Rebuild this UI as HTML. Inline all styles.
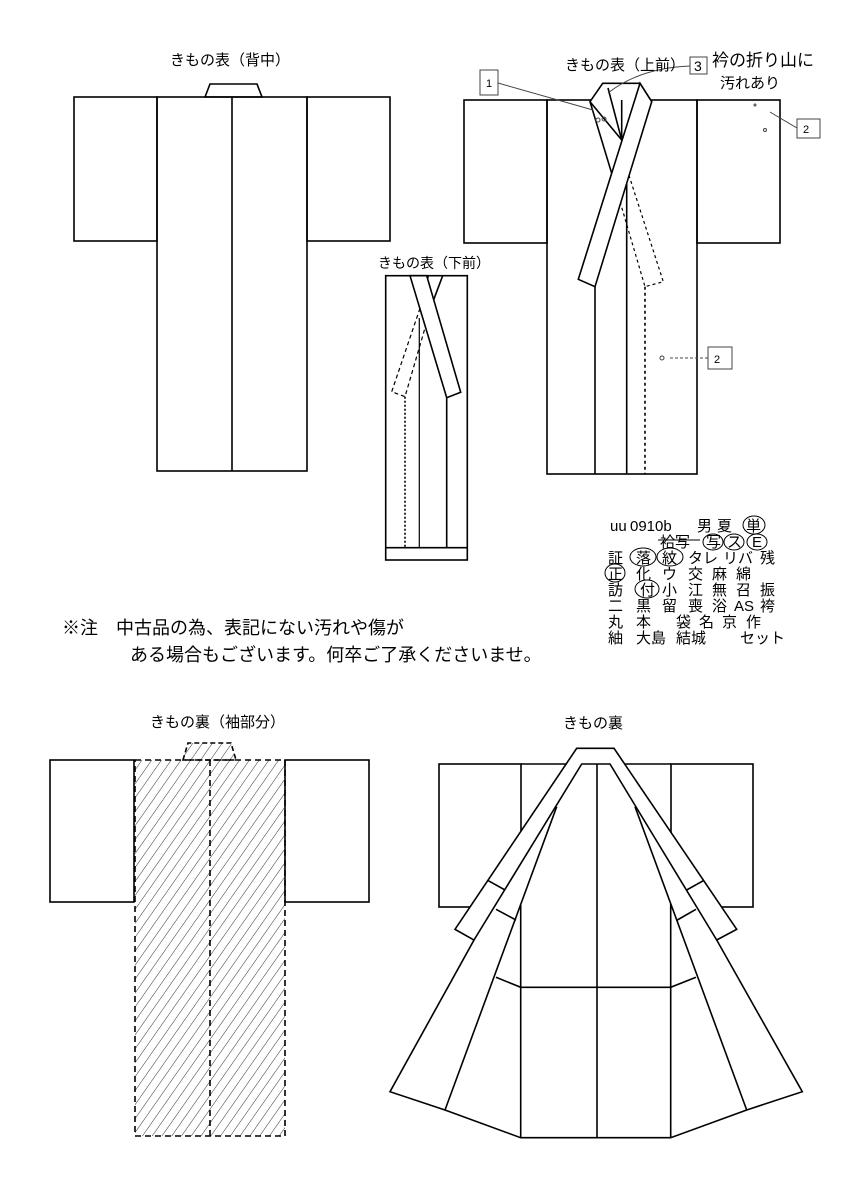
<!DOCTYPE html>
<html><head><meta charset="utf-8"><style>
html,body{margin:0;padding:0;background:#fff;}
svg{display:block;}
text{font-family:"Liberation Sans","Noto Sans CJK JP",sans-serif;fill:#000;}
</style></head><body>
<svg width="847" height="1200" viewBox="0 0 847 1200" xmlns="http://www.w3.org/2000/svg">
<defs>
<pattern id="h" width="8" height="8" patternUnits="userSpaceOnUse" patternTransform="rotate(35)">
<line x1="0" y1="0" x2="0" y2="8" stroke="#333" stroke-width="1"/></pattern>
</defs>
<g fill="none" stroke="#000" stroke-width="1.6">
<!-- top-left back -->
<rect x="74" y="97" width="83" height="144"/>
<rect x="307" y="97" width="83" height="144"/>
<rect x="157" y="97" width="150" height="374"/>
<line x1="232" y1="97" x2="232" y2="471"/>
<polygon points="205,97 210,84 257,84 262,97"/>
<!-- bottom center small -->
<rect x="385.7" y="275.7" width="81.6" height="284.3"/>
<line x1="385.7" y1="547.7" x2="467.3" y2="547.7"/>
<line x1="419.3" y1="318" x2="419.3" y2="547.7" stroke-width="1.2"/>
<line x1="446.7" y1="397.7" x2="446.7" y2="547.7"/>
<line x1="405" y1="396.7" x2="405" y2="547.7" stroke-dasharray="2,2"/>
<polyline points="428.3,275.7 420,308.3"/>
<polyline points="442.7,275.7 431.7,305"/>
<g stroke-dasharray="4,3" stroke-width="1.2">
<polyline points="420,308.3 391.7,391.7 405,396.7 431.7,305"/>
</g>
<polygon points="410,275.7 426.7,275.7 460.7,392.3 446.7,397.7" fill="#fff"/>
<!-- top-right front -->
<rect x="464" y="100" width="83" height="143"/>
<rect x="697" y="100" width="83" height="143"/>
<rect x="547" y="100" width="150" height="374"/>
<line x1="626.7" y1="140" x2="626.7" y2="474"/>
<line x1="595" y1="286.7" x2="595" y2="474"/>
<line x1="645" y1="286.7" x2="645" y2="474" stroke-dasharray="3,3"/>
<polygon points="602.7,83.3 640,83.3 651.7,101.7 621.7,140 590,101.7" fill="#fff"/>
<line x1="621.7" y1="100" x2="621.7" y2="140"/>
<line x1="608" y1="88" x2="621.7" y2="140"/>
<polyline points="590,101.7 611.7,173.3"/>
<polyline points="611.7,173.3 645,286.7 663.3,281.7 628.3,173.3" stroke-dasharray="3,3" stroke-width="1.2"/>
<polygon points="640,83.3 651.7,101.7 595,286.7 578.3,279.3" fill="#fff"/>
<!-- bottom-left lining -->
<rect x="50" y="760" width="84" height="142"/>
<rect x="285" y="760" width="84" height="142"/>
<rect x="135" y="760" width="150" height="376" fill="url(#h)" stroke-dasharray="6,4"/>
<line x1="210" y1="760" x2="210" y2="1136" stroke-dasharray="6,4"/>
<polygon points="183,760 188,743 231,743 236,760" fill="url(#h)" stroke-dasharray="5,3"/>
<!-- bottom-right lining -->
<rect x="439" y="764" width="82" height="143"/>
<rect x="671" y="764" width="82" height="143"/>
<line x1="521" y1="764" x2="671" y2="764"/>
<polygon points="576.7,748.3 614,748.3 736.7,929.3 716.7,940 802.3,1091.7 746.7,1110 670.7,1137.7 520.7,1137.7 445,1110 390,1091.7 474,940 455,929.3" fill="#fff"/>
<polyline points="474,940 581.7,764 610,764 716.7,940"/>
<line x1="597" y1="764" x2="597" y2="1137.7"/>
<line x1="520.7" y1="904" x2="520.7" y2="1137.7"/>
<line x1="670.7" y1="904" x2="670.7" y2="1137.7"/>
<line x1="556.7" y1="806.7" x2="445" y2="1110"/>
<line x1="635" y1="806.7" x2="746.7" y2="1110"/>
<polyline points="496,977.3 520.7,987.3 670.7,987.3 696,977.3"/>
<line x1="488.3" y1="880.7" x2="505" y2="890"/>
<line x1="496" y1="909.3" x2="516" y2="920"/>
<line x1="686.7" y1="890" x2="703.3" y2="880.7"/>
<line x1="677.3" y1="920" x2="696" y2="909.3"/>
</g>
<!-- annotations -->
<g fill="none" stroke="#444" stroke-width="1">
<rect x="480" y="70" width="18" height="25"/>
<line x1="498" y1="83" x2="593" y2="110"/>
<rect x="797" y="119" width="23" height="19"/>
<line x1="797" y1="128" x2="770" y2="112"/>
<circle cx="765" cy="130" r="1.5"/>
<circle cx="755" cy="105" r="1"/>
<rect x="708" y="347" width="24" height="22"/>
<line x1="708" y1="358" x2="668" y2="358" stroke-dasharray="3,2"/>
<circle cx="662" cy="358" r="2"/>
<circle cx="598" cy="120" r="2"/><circle cx="604" cy="119" r="2"/>
<rect x="690" y="57" width="17" height="17"/>
<path d="M690 66 Q640 68 608 93"/>
</g>
<text x="694" y="71" font-size="14">3</text>
<text x="486" y="87" font-size="11">1</text>
<text x="803" y="133" font-size="11">2</text>
<text x="714" y="363" font-size="11">2</text>
<text x="712" y="66" font-size="17" font-family="'Noto Sans CJK JP',sans-serif">衿の折り山に</text>
<text x="720" y="88" font-size="15" font-family="'Noto Sans CJK JP',sans-serif">汚れあり</text>
<text x="170" y="65" font-size="15">きもの表（背中）</text>
<text x="565" y="70" font-size="15">きもの表（上前）</text>
<text x="378" y="268" font-size="14">きもの表（下前）</text>
<text x="150" y="727" font-size="15">きもの裏（袖部分）</text>
<text x="563" y="728" font-size="15">きもの裏</text>
<text x="62" y="634" font-size="18">※注　中古品の為、表記にない汚れや傷が</text>
<text x="130" y="661" font-size="18">ある場合もございます。何卒ご了承くださいませ。</text>
<g font-size="15">
<text x="610" y="531">uu</text><text x="630" y="531">0910b</text><text x="697" y="531">男</text><text x="717" y="531">夏</text><text x="746" y="531">単</text>
<text x="660" y="547">袷写</text><text x="706" y="547">写</text><text x="727" y="547">ス</text><text x="752" y="547">E</text>
<text x="608" y="563">証</text><text x="636" y="563">落</text><text x="662" y="563">紋</text><text x="688" y="563">タレ</text><text x="723" y="563">リバ</text><text x="760" y="563">残</text>
<text x="608" y="579">正</text><text x="636" y="579">化</text><text x="662" y="579">ウ</text><text x="688" y="579">交</text><text x="712" y="579">麻</text><text x="736" y="579">綿</text>
<text x="608" y="595">訪</text><text x="640" y="595">付</text><text x="662" y="595">小</text><text x="688" y="595">江</text><text x="712" y="595">無</text><text x="736" y="595">召</text><text x="760" y="595">振</text>
<text x="608" y="611">二</text><text x="636" y="611">黒</text><text x="662" y="611">留</text><text x="688" y="611">喪</text><text x="712" y="611">浴</text><text x="734" y="611">AS</text><text x="760" y="611">袴</text>
<text x="608" y="627">丸</text><text x="636" y="627">本</text><text x="676" y="627">袋</text><text x="699" y="627">名</text><text x="722" y="627">京</text><text x="746" y="627">作</text>
<text x="608" y="643">紬</text><text x="636" y="643">大島</text><text x="676" y="643">結城</text><text x="740" y="643">セット</text>
</g>
<g fill="none" stroke="#000" stroke-width="1">
<ellipse cx="754" cy="525" rx="11" ry="9"/>
<ellipse cx="713" cy="542" rx="10" ry="8"/>
<ellipse cx="734" cy="542" rx="10" ry="8"/>
<ellipse cx="757" cy="542" rx="10" ry="8"/>
<ellipse cx="643" cy="557" rx="13" ry="9"/>
<ellipse cx="670" cy="557" rx="13" ry="9"/>
<ellipse cx="615" cy="573" rx="10" ry="9"/>
<ellipse cx="647" cy="589" rx="12" ry="9"/>
<line x1="658" y1="540" x2="700" y2="540"/>
</g>
</svg>
</body></html>
